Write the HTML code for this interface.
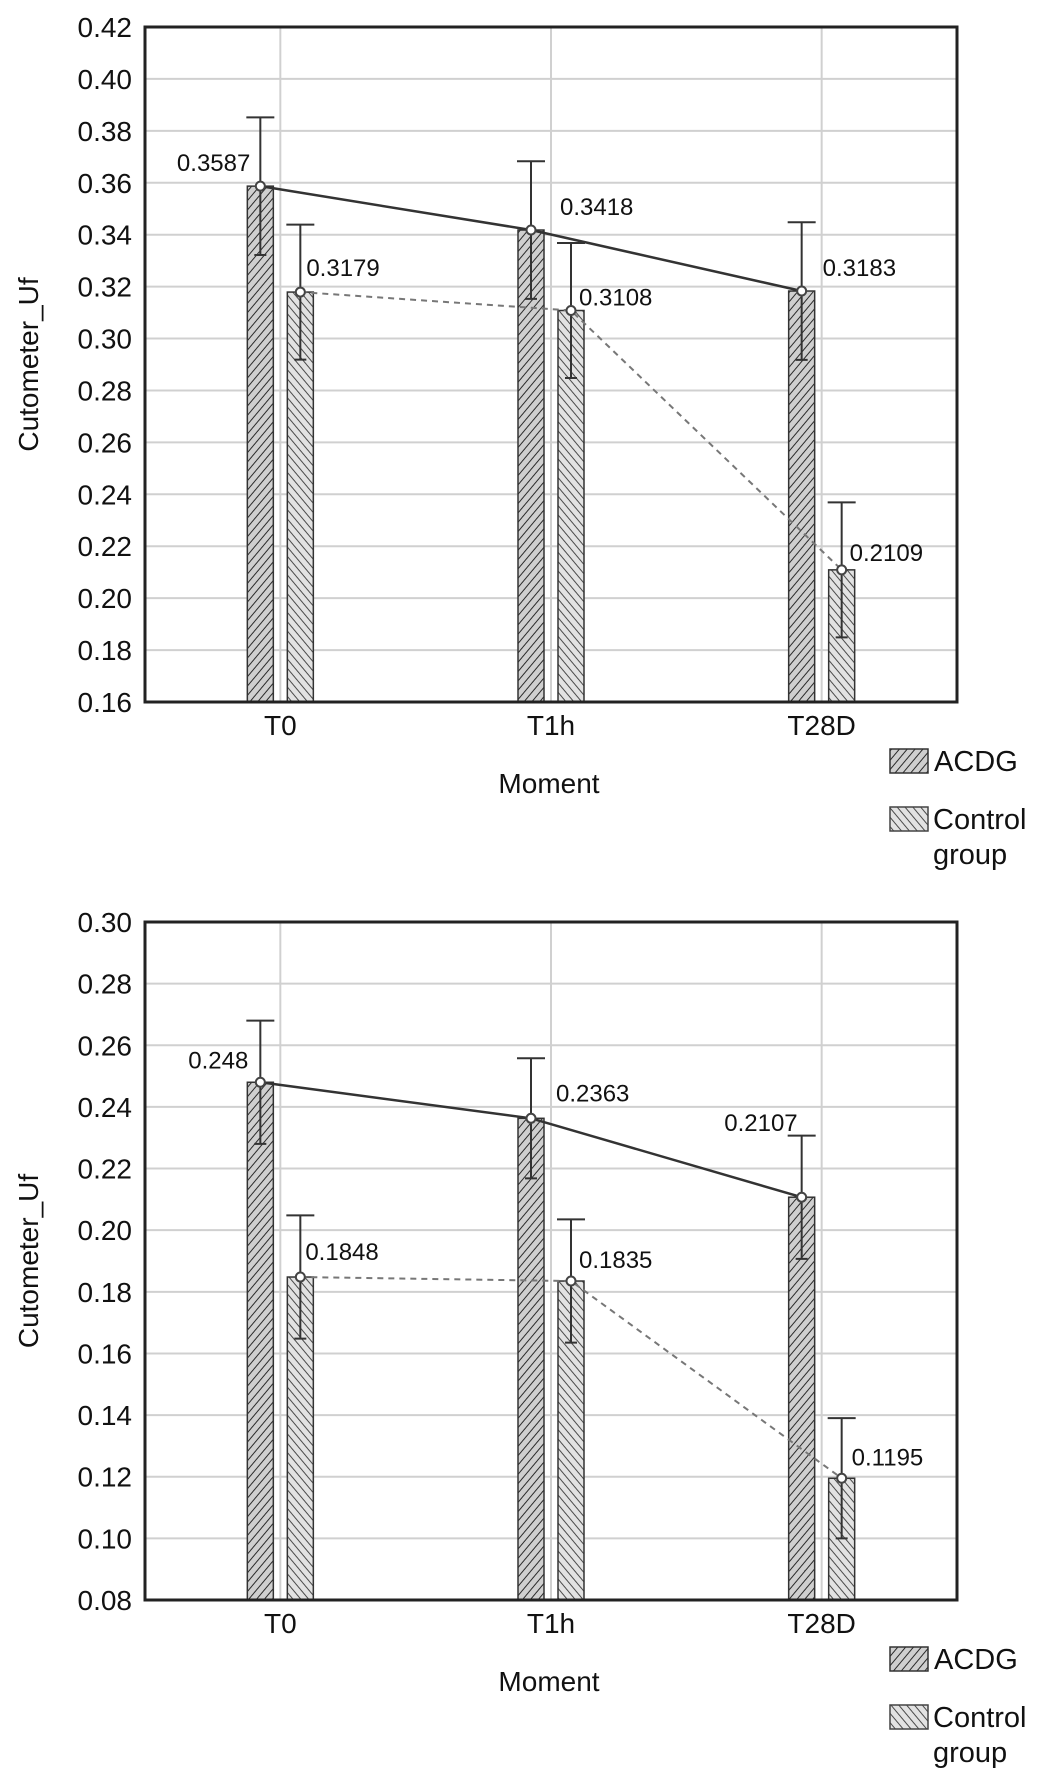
<!DOCTYPE html>
<html><head><meta charset="utf-8"><style>
html,body{margin:0;padding:0;background:#fff;}
svg{display:block;font-family:"Liberation Sans",Arial,sans-serif;}
</style></head><body>
<svg id="root" width="1063" height="1786" viewBox="0 0 1063 1786" xmlns="http://www.w3.org/2000/svg">
<defs>
<pattern id="hA" patternUnits="userSpaceOnUse" width="6" height="6" patternTransform="rotate(40)">
<rect width="6" height="6" fill="#cfcfcf"/><line x1="0" y1="0" x2="0" y2="6" stroke="#2a2a2a" stroke-width="2"/></pattern>
<pattern id="hC" patternUnits="userSpaceOnUse" width="6" height="6" patternTransform="rotate(-40)">
<rect width="6" height="6" fill="#e2e2e2"/><line x1="0" y1="0" x2="0" y2="6" stroke="#4a4a4a" stroke-width="2"/></pattern>
</defs>
</svg>
<script>
const categories = ["T0","T1h","T28D"];
const acdgTop = [0.3587,0.3418,0.3183];
const ctrlTop = [0.3179,0.3108,0.2109];
const acdgTopErr = [0.0265,0.0265,0.0265];
const ctrlTopErr = [0.026,0.026,0.026];
const acdgBot = [0.248,0.2363,0.2107];
const ctrlBot = [0.1848,0.1835,0.1195];
const acdgBotErr = [0.02,0.0195,0.02];
const ctrlBotErr = [0.02,0.02,0.0195];
const ticksTop = ["0.16","0.18","0.20","0.22","0.24","0.26","0.28","0.30","0.32","0.34","0.36","0.38","0.40","0.42"];
const ticksBot = ["0.08","0.10","0.12","0.14","0.16","0.18","0.20","0.22","0.24","0.26","0.28","0.30"];
const labelsA = ["0.3587","0.3418","0.3183"];
const labelsC = ["0.3179","0.3108","0.2109"];
const labelsA2 = ["0.248","0.2363","0.2107"];
const labelsC2 = ["0.1848","0.1835","0.1195"];

const NS="http://www.w3.org/2000/svg";
const root=document.getElementById('root');
function el(tag,attrs,parent,text){const e=document.createElementNS(NS,tag);for(const k in attrs)e.setAttribute(k,attrs[k]);if(text!==undefined)e.textContent=text;(parent||root).appendChild(e);return e;}

function chart(cfg){
  const g=el('g',{});
  
  
  const L=145,R=957,T=cfg.top,B=cfg.bottom;
  const mn=+cfg.ticks[0], mx=+cfg.ticks[cfg.ticks.length-1];
  const y=v=>B-(v-mn)/(mx-mn)*(B-T);
  const xc=i=>L+(R-L)*(2*i+1)/(2*categories.length);
  cfg.ticks.forEach(t=>{
    const yy=y(+t);
    const gl=el('line',{x1:L,x2:R,y1:yy,y2:yy,stroke:'#d0d0d0','stroke-width':2},g);
    
    
    const tl=el('text',{x:132,y:yy+10,'text-anchor':'end','font-size':28,fill:'#111'},g,t);
    
    
  });
  categories.forEach((c,i)=>{
    const gv=el('line',{x1:xc(i),x2:xc(i),y1:T,y2:B,stroke:'#d0d0d0','stroke-width':2},g);
    
    
    const xl=el('text',{x:xc(i),y:B+33,'text-anchor':'middle','font-size':28,fill:'#111'},g,c);
    
    
  });
  const series=[{v:cfg.a,e:cfg.ae,off:-20,fill:'url(#hA)',n:'acdg'},{v:cfg.c,e:cfg.ce,off:20,fill:'url(#hC)',n:'control'}];
  series.forEach(s=>{
    s.v.forEach((v,i)=>{
      const cx=xc(i)+s.off;
      const b=el('rect',{x:cx-13,y:y(v),width:26,height:B-y(v),fill:s.fill,stroke:'#333','stroke-width':1.5},g);
      
      
    });
  });
  const la=el('polyline',{points:cfg.a.map((v,i)=>(xc(i)-20)+','+y(v)).join(' '),fill:'none',stroke:'#333','stroke-width':2.5},g);
  
  
  const lc=el('polyline',{points:cfg.c.map((v,i)=>(xc(i)+20)+','+y(v)).join(' '),fill:'none',stroke:'#777','stroke-width':2,'stroke-dasharray':'6,5'},g);
  
  
  series.forEach(s=>{
    s.v.forEach((v,i)=>{
      const cx=xc(i)+s.off, hi=y(v+s.e[i]), lo=y(v-s.e[i]);
      const eb=el('path',{d:`M${cx},${hi}V${lo}M${cx-14},${hi}H${cx+14}M${cx-6},${lo}H${cx+6}`,stroke:'#333','stroke-width':2,fill:'none'},g);
      
      
      const m=el('circle',{cx:cx,cy:y(v),r:4.5,fill:'#fff',stroke:'#444','stroke-width':2},g);
      
      
    });
  });
  cfg.la.forEach((t,i)=>{
    const o=cfg.oa[i];
    const tx=el('text',{x:xc(i)-20+o[0],y:y(cfg.a[i])+o[1]+9,'text-anchor':o[2],'font-size':24,fill:'#111'},g,t);
    
    
  });
  cfg.lc.forEach((t,i)=>{
    const o=cfg.oc[i];
    const tx=el('text',{x:xc(i)+20+o[0],y:y(cfg.c[i])+o[1]+9,'text-anchor':o[2],'font-size':24,fill:'#111'},g,t);
    
    
  });
  const fr=el('rect',{x:L,y:T,width:R-L,height:B-T,fill:'none',stroke:'#222','stroke-width':3},g);
  
  
  const yt=el('text',{x:0,y:0,transform:`translate(38,${(T+B)/2}) rotate(-90)`,'text-anchor':'middle','font-size':28,fill:'#111'},g,'Cutometer_Uf');
  
  
  const xt=el('text',{x:549,y:B+91,'text-anchor':'middle','font-size':28,fill:'#111'},g,'Moment');
  
  
  const lg=el('g',{},g);
  
  
  const l1=el('rect',{x:890,y:B+47,width:38,height:24,fill:'url(#hA)',stroke:'#333','stroke-width':1.5},lg);
  
  
  const t1=el('text',{x:934,y:B+69,'font-size':29,fill:'#111'},lg,'ACDG');
  
  
  const l2=el('rect',{x:890,y:B+105,width:38,height:24,fill:'url(#hC)',stroke:'#444','stroke-width':1.5},lg);
  
  
  const t2=el('text',{x:933,y:B+127,'font-size':29,fill:'#111'},lg,'Control');
  
  
  const t3=el('text',{x:933,y:B+162,'font-size':29,fill:'#111'},lg,'group');
  
  
}
chart({name:'chart-top',top:27,bottom:702,ticks:ticksTop,a:acdgTop,c:ctrlTop,ae:acdgTopErr,ce:ctrlTopErr,la:labelsA,lc:labelsC,
  oa:[[-10,-24,'end'],[29,-24,'start'],[21,-24,'start']],oc:[[6,-25,'start'],[8,-14,'start'],[8,-18,'start']]});
chart({name:'chart-bottom',top:922,bottom:1600,ticks:ticksBot,a:acdgBot,c:ctrlBot,ae:acdgBotErr,ce:ctrlBotErr,la:labelsA2,lc:labelsC2,
  oa:[[-12,-23,'end'],[25,-26,'start'],[-4,-75,'end']],oc:[[5,-26,'start'],[8,-22,'start'],[10,-22,'start']]});
</script>
</body></html>
